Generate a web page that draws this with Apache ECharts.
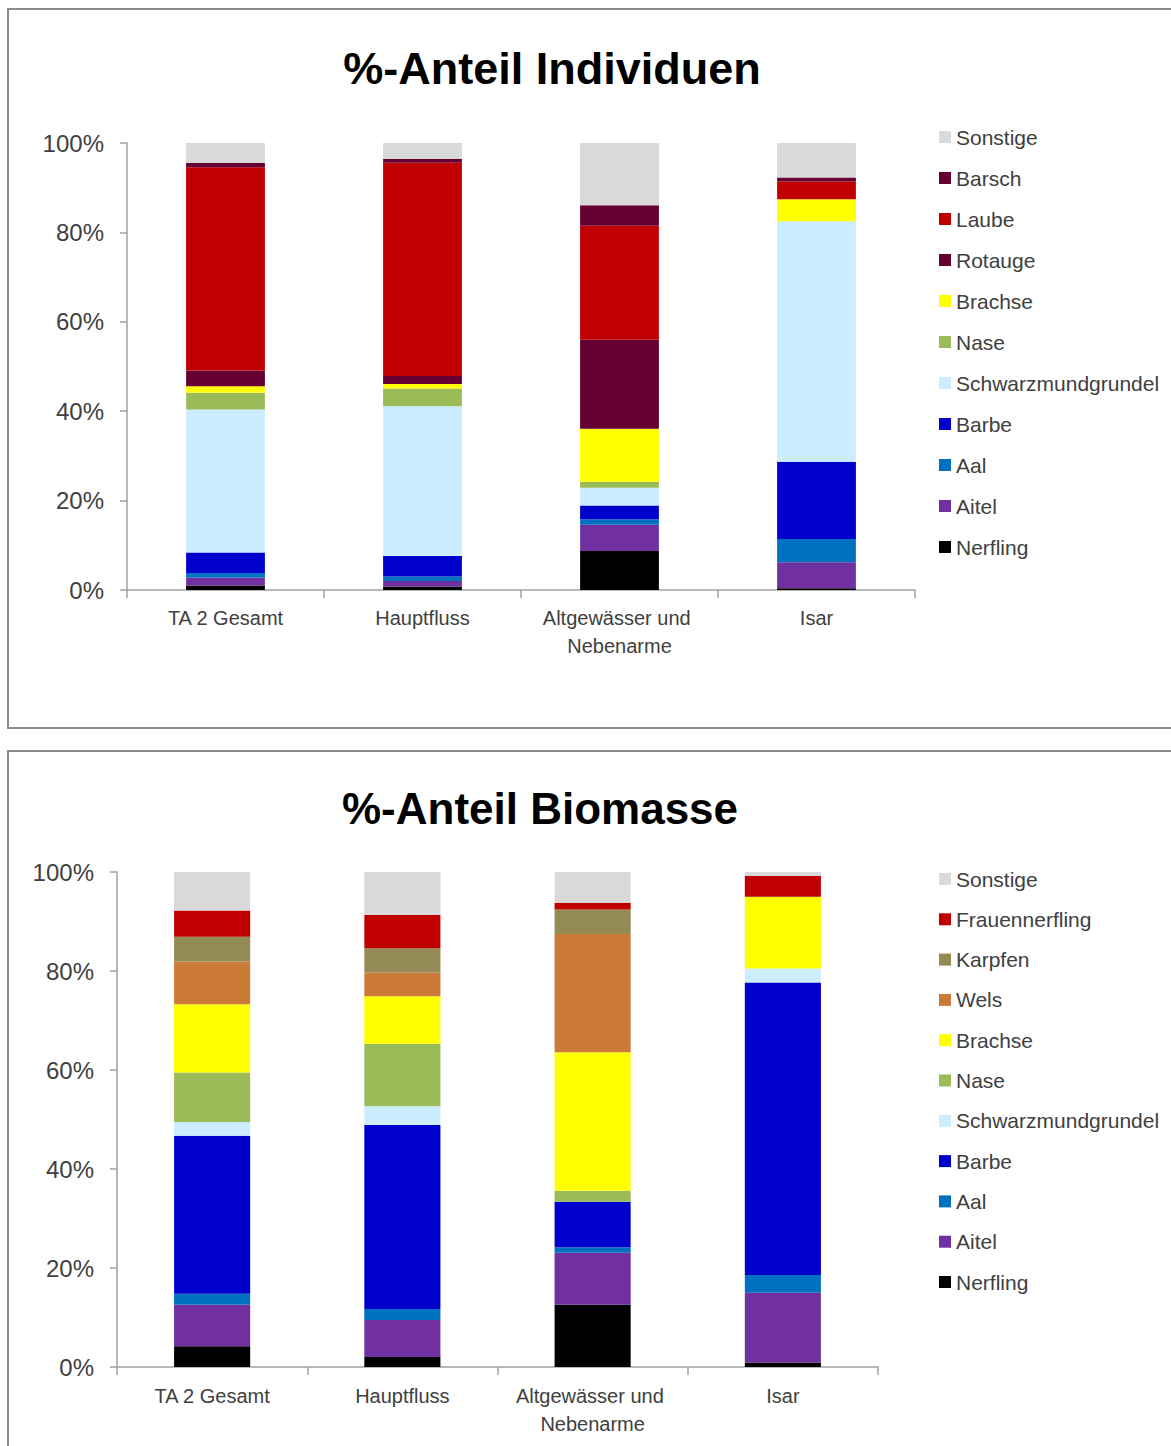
<!DOCTYPE html>
<html>
<head>
<meta charset="utf-8">
<script src="https://cdn.jsdelivr.net/npm/echarts@6/dist/echarts.min.js"></script>
<style>
html,body{margin:0;padding:0;background:#fff;overflow:hidden;}
#c{width:1171px;height:1446px;}
</style>
</head>
<body>
<div id="c"></div>
<script>
// ---------- data ----------
const categories = ['TA 2 Gesamt', 'Hauptfluss', 'Altgewässer und Nebenarme', 'Isar'];
const titleIndividuen = '%-Anteil Individuen';
const titleBiomasse = '%-Anteil Biomasse';

// %-Anteil Individuen (stack order bottom -> top)
const indNerfling           = [1.0, 0.8, 8.7, 0.4];
const indAitel              = [1.8, 1.2, 5.9, 5.8];
const indAal                = [1.0, 1.0, 1.2, 5.2];
const indBarbe              = [4.6, 4.6, 3.1, 17.3];
const indSchwarzmundgrundel = [32.0, 33.5, 4.0, 53.8];
const indNase               = [3.7, 4.0, 1.3, 0];
const indBrachse            = [1.5, 1.0, 11.9, 4.9];
const indRotauge            = [3.5, 1.8, 19.9, 0];
const indLaube              = [45.5, 47.7, 25.5, 4.0];
const indBarsch             = [0.9, 0.9, 4.6, 0.9];
const indSonstige           = [4.5, 3.5, 13.9, 7.7];

// %-Anteil Biomasse (stack order bottom -> top)
const bioNerfling           = [4.2, 2.0, 12.6, 0.9];
const bioAitel              = [8.4, 7.5, 10.5, 14.1];
const bioAal                = [2.2, 2.2, 1.1, 3.6];
const bioBarbe              = [31.9, 37.2, 9.2, 59.1];
const bioSchwarzmundgrundel = [2.8, 3.8, 0, 2.8];
const bioNase               = [10.0, 12.6, 2.2, 0];
const bioBrachse            = [13.8, 9.6, 28.0, 14.5];
const bioWels               = [8.6, 4.8, 23.9, 0];
const bioKarpfen            = [5.0, 4.9, 4.9, 0];
const bioFrauennerfling     = [5.3, 6.7, 1.4, 4.2];
const bioSonstige           = [7.8, 8.7, 6.2, 0.8];

// ---------- styles ----------
const colors = {
  Nerfling: '#000000', Aitel: '#7030A0', Aal: '#0070C0', Barbe: '#0000CC',
  Schwarzmundgrundel: '#CCECFF', Nase: '#9BBB59', Brachse: '#FFFF00',
  Rotauge: '#660033', Laube: '#C00000', Barsch: '#660033', Sonstige: '#D9D9D9',
  Wels: '#CC7A38', Karpfen: '#948A54', Frauennerfling: '#C00000'
};
const FONT = 'Liberation Sans, Arial, sans-serif';
const TXT = '#404040';
const AXIS = '#A0A0A0';

const indSeries = [
  ['Nerfling', indNerfling], ['Aitel', indAitel], ['Aal', indAal], ['Barbe', indBarbe],
  ['Schwarzmundgrundel', indSchwarzmundgrundel], ['Nase', indNase], ['Brachse', indBrachse],
  ['Rotauge', indRotauge], ['Laube', indLaube], ['Barsch', indBarsch], ['Sonstige', indSonstige]
];
const bioSeries = [
  ['Nerfling', bioNerfling], ['Aitel', bioAitel], ['Aal', bioAal], ['Barbe', bioBarbe],
  ['Schwarzmundgrundel', bioSchwarzmundgrundel], ['Nase', bioNase], ['Brachse', bioBrachse],
  ['Wels', bioWels], ['Karpfen', bioKarpfen], ['Frauennerfling', bioFrauennerfling], ['Sonstige', bioSonstige]
];

function makeSeries(list, idx, stack) {
  return list.map(([name, data]) => ({
    id: stack + '_' + name,
    name: name,
    type: 'bar',
    stack: stack,
    xAxisIndex: idx,
    yAxisIndex: idx,
    barCategoryGap: '60%',
    itemStyle: { color: colors[name] },
    data: data
  }));
}

function xAxisCfg(idx, margin) {
  return {
    type: 'category', gridIndex: idx, data: categories,
    axisLine: { lineStyle: { color: AXIS, width: 1.5 } },
    axisTick: { show: true, length: 8, lineStyle: { color: AXIS, width: 1.5 } },
    axisLabel: {
      color: TXT, fontFamily: FONT, fontSize: 20, lineHeight: 28, margin: margin,
      width: 175, overflow: 'break', interval: 0
    }
  };
}
function yAxisCfg(idx) {
  return {
    type: 'value', gridIndex: idx, min: 0, max: 100, interval: 20,
    splitLine: { show: false },
    axisLine: { show: true, lineStyle: { color: AXIS, width: 1.5 } },
    axisTick: { show: true, length: 7, lineStyle: { color: AXIS, width: 1.5 } },
    axisLabel: { color: TXT, fontFamily: FONT, fontSize: 24, margin: 23, formatter: '{value}%' }
  };
}
function legendCfg(list, top, gap) {
  return {
    orient: 'vertical', left: 939, top: top, itemGap: gap, padding: 0,
    itemWidth: 12, itemHeight: 12, icon: 'rect',
    selectedMode: false,
    textStyle: { color: TXT, fontFamily: FONT, fontSize: 21, lineHeight: 21 },
    data: list.map(s => s[0]).reverse()
  };
}

const chart = echarts.init(document.getElementById('c'), null, { renderer: 'svg' });
chart.setOption({
  backgroundColor: '#ffffff',
  animation: false,
  graphic: [
    { type: 'rect', shape: { x: 8, y: 9, width: 1200, height: 719 }, style: { fill: 'none', stroke: '#8C8C8C', lineWidth: 2 } },
    { type: 'rect', shape: { x: 8, y: 751, width: 1200, height: 720 }, style: { fill: 'none', stroke: '#8C8C8C', lineWidth: 2 } },
    { type: 'text', x: 552, y: 68, style: { text: titleIndividuen, fill: '#000', font: 'bold 45px ' + FONT, align: 'center', verticalAlign: 'middle' } },
    { type: 'text', x: 540, y: 808, style: { text: titleBiomasse, fill: '#000', font: 'bold 44px ' + FONT, align: 'center', verticalAlign: 'middle' } }
  ],
  grid: [
    { left: 127, right: 256, top: 143, height: 447 },
    { left: 117, right: 293, top: 872, height: 495 }
  ],
  xAxis: [xAxisCfg(0, 14), xAxisCfg(1, 15)],
  yAxis: [yAxisCfg(0), yAxisCfg(1)],
  legend: [legendCfg(indSeries, 126.5, 20), legendCfg(bioSeries, 868.5, 19.3)],
  series: makeSeries(indSeries, 0, 'ind').concat(makeSeries(bioSeries, 1, 'bio'))
});
</script>
</body>
</html>
